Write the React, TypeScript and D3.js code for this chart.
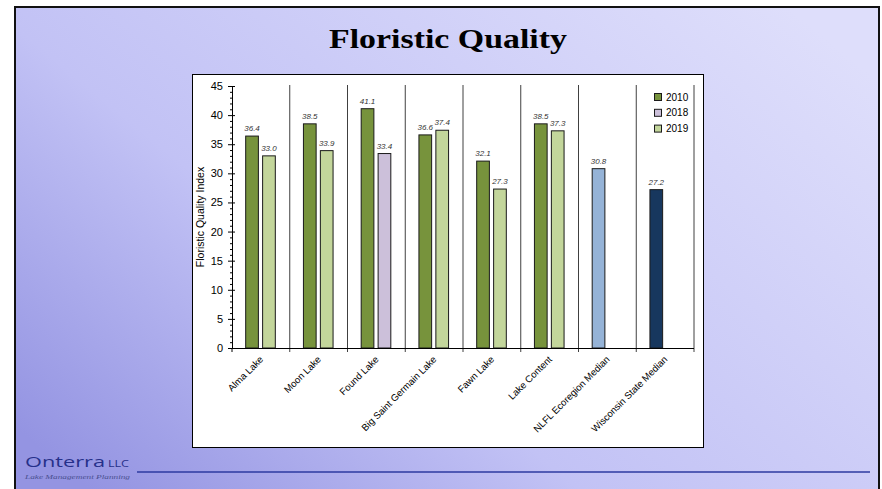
import React from "react";
import * as d3 from "d3";

const categories = [
  "Alma Lake",
  "Moon Lake",
  "Found Lake",
  "Big Saint Germain Lake",
  "Fawn Lake",
  "Lake Content",
  "NLFL Ecoregion Median",
  "Wisconsin State Median",
];
// first slot value (2010 or median), second slot value (2018/2019)
const firstSlot: (number | null)[] = [36.4, 38.5, 41.1, 36.6, 32.1, 38.5, 30.8, 27.2];
const firstSlotSeries = ["2010", "2010", "2010", "2010", "2010", "2010", "nlfl", "wi"];
const secondSlot: (number | null)[] = [33.0, 33.9, 33.4, 37.4, 27.3, 37.3, null, null];
const secondSlotSeries = ["2019", "2019", "2018", "2019", "2019", "2019", "", ""];
const legendItems = ["2010", "2018", "2019"];
const yTicks = [0, 5, 10, 15, 20, 25, 30, 35, 40, 45];

const colors: Record<string, string> = {
  "2010": "#77933C",
  "2018": "#CCC0DA",
  "2019": "#C3D69B",
  nlfl: "#95B3D7",
  wi: "#17375E",
};

export default function App() {
  const W = 882, H = 489;
  const x0 = 232, x1 = 694, yTop = 86, yBot = 348;
  const x = d3.scaleBand<string>().domain(categories).range([x0, x1]).padding(0);
  const bw = x.bandwidth();
  const slot = d3.scaleBand<number>().domain([0, 1]).range([bw * 0.237, bw * 0.75]).paddingInner(0.25);
  const y = d3.scaleLinear().domain([0, 45]).range([yBot, yTop]);
  const minor = d3.range(0, 46, 1).filter((v) => v % 5 !== 0);

  const bars: { cat: string; s: number; v: number; c: string }[] = [];
  categories.forEach((c, i) => {
    if (firstSlot[i] != null) bars.push({ cat: c, s: 0, v: firstSlot[i] as number, c: colors[firstSlotSeries[i]] });
    if (secondSlot[i] != null) bars.push({ cat: c, s: 1, v: secondSlot[i] as number, c: colors[secondSlotSeries[i]] });
  });

  return (
    <div style={{ position: "absolute", left: 0, top: 0 }}>
      <svg width={W} height={H} style={{ display: "block" }}>
        <defs>
          <linearGradient id="bg" x1="0" y1="0.85" x2="1" y2="0.15">
            <stop offset="0" stopColor="#9494e2" />
            <stop offset="0.38" stopColor="#c2c2f5" />
            <stop offset="1" stopColor="#dedefb" />
          </linearGradient>
        </defs>
        <rect x={0} y={0} width={W} height={H} fill="#ffffff" />
        <rect x={15} y={7} width={864} height={495} fill="url(#bg)" stroke="#111" strokeWidth={2} />
        <text
          x={448}
          y={48}
          textAnchor="middle"
          fontFamily="'Liberation Serif', serif"
          fontWeight="bold"
          fontSize={27}
          textLength={238}
          lengthAdjust="spacingAndGlyphs"
          fill="#000"
        >
          Floristic Quality
        </text>

        {/* chart frame */}
        <rect x={192.5} y={74.5} width={511} height={373} fill="#fff" stroke="#000" strokeWidth={1} />

        {/* gridlines / category dividers */}
        {categories.map((c, i) => (
          <line key={"g" + i} x1={x(c)! + bw} x2={x(c)! + bw} y1={yTop - 1} y2={yBot + 4} stroke="#404040" strokeWidth={1} />
        ))}
        <line x1={x0} x2={x0} y1={yBot} y2={yBot + 4} stroke="#000" />

        {/* bars */}
        {bars.map((b, i) => (
          <rect
            key={"b" + i}
            x={x(b.cat)! + slot(b.s)!}
            y={y(b.v)}
            width={slot.bandwidth()}
            height={yBot - y(b.v)}
            fill={b.c}
            stroke="#1a1a1a"
            strokeWidth={1}
          />
        ))}
        {bars.map((b, i) => (
          <text
            key={"l" + i}
            x={x(b.cat)! + slot(b.s)! + slot.bandwidth() / 2}
            y={y(b.v) - 5}
            textAnchor="middle"
            fontFamily="'Liberation Sans', Arial, sans-serif"
            fontStyle="italic"
            fontSize={8}
            fill="#333"
          >
            {b.v.toFixed(1)}
          </text>
        ))}

        {/* axes */}
        <line x1={x0} x2={x1} y1={yBot + 0.5} y2={yBot + 0.5} stroke="#000" />
        <line x1={x0 + 0.5} x2={x0 + 0.5} y1={yTop} y2={yBot} stroke="#000" />
        {yTicks.map((t) => (
          <g key={"t" + t}>
            <line x1={x0 - 4} x2={x0 + 3} y1={y(t) + 0.5} y2={y(t) + 0.5} stroke="#000" />
            <text
              x={223}
              y={y(t) + 4}
              textAnchor="end"
              fontFamily="'Liberation Sans', Arial, sans-serif"
              fontSize={11}
              fill="#000"
            >
              {t}
            </text>
          </g>
        ))}
        {minor.map((t) => (
          <line key={"m" + t} x1={x0 - 2} x2={x0} y1={y(t) + 0.5} y2={y(t) + 0.5} stroke="#000" />
        ))}
        <text
          transform={`translate(204,${(yTop + yBot) / 2}) rotate(-90)`}
          textAnchor="middle"
          fontFamily="'Liberation Sans', Arial, sans-serif"
          fontSize={10.5}
          fill="#000"
        >
          Floristic Quality Index
        </text>

        {categories.map((c, i) => (
          <text
            key={"x" + i}
            transform={`translate(${x(c)! + bw / 2 + 3},${yBot + 12}) rotate(-45)`}
            textAnchor="end"
            fontFamily="'Liberation Sans', Arial, sans-serif"
            fontSize={9.6}
            fill="#000"
          >
            {c}
          </text>
        ))}

        {/* legend */}
        {legendItems.map((l, i) => (
          <g key={"lg" + l} transform={`translate(654,${93 + i * 15.8})`}>
            <rect x={0.5} y={0.5} width={7} height={7} fill={colors[l]} stroke="#1a1a1a" />
            <text x={12} y={7.5} fontFamily="'Liberation Sans', Arial, sans-serif" fontSize={10} fill="#000">
              {l}
            </text>
          </g>
        ))}

        {/* footer */}
        <text
          x={25}
          y={467}
          fontFamily="'Open Sans', sans-serif"
          fontSize={14}
          textLength={80}
          lengthAdjust="spacingAndGlyphs"
          fill="#26308a"
        >
          Onterra
        </text>
        <text x={108} y={467} fontFamily="'Open Sans', sans-serif" fontSize={9.5} textLength={21} lengthAdjust="spacingAndGlyphs" fill="#26308a">
          LLC
        </text>
        <text
          x={25}
          y={479}
          fontFamily="'Liberation Serif', serif"
          fontStyle="italic"
          fontSize={6.5}
          textLength={105}
          lengthAdjust="spacingAndGlyphs"
          fill="#4a4f90"
        >
          Lake Management Planning
        </text>
        <line x1={137} x2={870} y1={472} y2={472} stroke="#2d3aa0" strokeWidth={1.5} />
      </svg>
    </div>
  );
}
